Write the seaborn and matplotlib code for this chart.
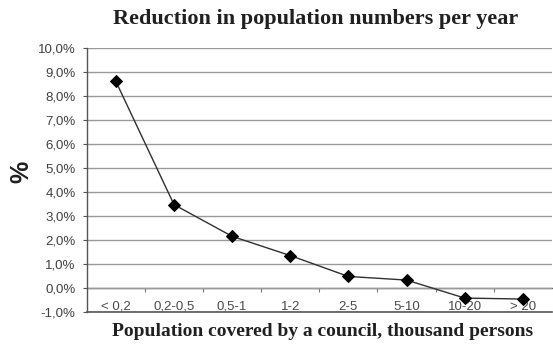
import matplotlib
matplotlib.use("Agg")
import matplotlib.pyplot as plt
from matplotlib.ticker import FuncFormatter, MultipleLocator, FixedLocator
import seaborn as sns
import pandas as pd

# Size groups of councils (thousand persons) and yearly population decline, %
categories = ["< 0,2", "0,2-0,5", "0,5-1", "1-2", "2-5", "5-10", "10-20", "> 20"]
reduction = [8.6, 3.47, 2.15, 1.35, 0.48, 0.33, -0.42, -0.46]

df = pd.DataFrame({"group": categories, "pos": range(len(categories)), "value": reduction})

sns.set_style("white")
plt.rcParams["font.family"] = ["Liberation Sans", "DejaVu Sans"]

fig = plt.figure(figsize=(5.53, 3.44), dpi=100)
ax = fig.add_axes([0.157, 0.093, 0.841, 0.768])

sns.lineplot(data=df, x="pos", y="value", ax=ax, color="#303030", linewidth=1.0,
             marker="D", markersize=6, markerfacecolor="black", markeredgecolor="black")

ax.set_xlim(-0.5, len(categories) - 0.5)
ax.set_ylim(-1, 10)
ax.yaxis.set_major_locator(MultipleLocator(1))
ax.yaxis.set_major_formatter(FuncFormatter(lambda v, _: f"{v:.1f}%".replace(".", ",")))
ax.grid(axis="y", color="#9a9a9a", linewidth=1.0)
ax.grid(axis="x", visible=False)
ax.set_axisbelow(True)

# Category labels sit inside the plot, just above the bottom frame
ax.set_xticks(range(len(categories)))
ax.set_xticklabels(categories)
ax.tick_params(axis="x", length=0, pad=-8, labelsize=9.5, labelcolor="#4a4a4a")
ax.tick_params(axis="y", direction="out", length=3, width=0.8, color="#555555",
               left=True, pad=5, labelsize=9.5, labelcolor="#404040")

for side in ("top", "right"):
    ax.spines[side].set_visible(False)
ax.spines["left"].set_color("#555555")
ax.spines["bottom"].set_color("#555555")
ax.spines["left"].set_linewidth(1.0)
ax.spines["bottom"].set_linewidth(1.2)

# Category axis crossing at 0 % with boundary tick marks
ymin, ymax = ax.get_ylim()
zero_frac = (0 - ymin) / (ymax - ymin)
sec = ax.secondary_xaxis(zero_frac)
sec.xaxis.set_major_locator(FixedLocator([i + 0.5 for i in range(len(categories) - 1)]))
sec.tick_params(axis="x", direction="out", length=3, width=0.8, color="#777777", labelbottom=False)
sec.spines["bottom"].set_color("#666666")
sec.spines["bottom"].set_linewidth(1.0)

ax.set_xlabel("")
ax.set_ylabel("")
fig.text(0.571, 0.945, "Reduction in population numbers per year", ha="center", va="center",
         fontsize=16, fontweight="bold", family="Liberation Serif", color="#202020")
fig.text(0.583, 0.035, "Population covered by a council, thousand persons", ha="center", va="center",
         fontsize=14, fontweight="bold", family="Liberation Serif", color="#202020")
fig.text(0.038, 0.5, "%", ha="center", va="center", rotation=90,
         fontsize=18, fontweight="bold", color="#202020")

fig.savefig("out.png", dpi=100)
